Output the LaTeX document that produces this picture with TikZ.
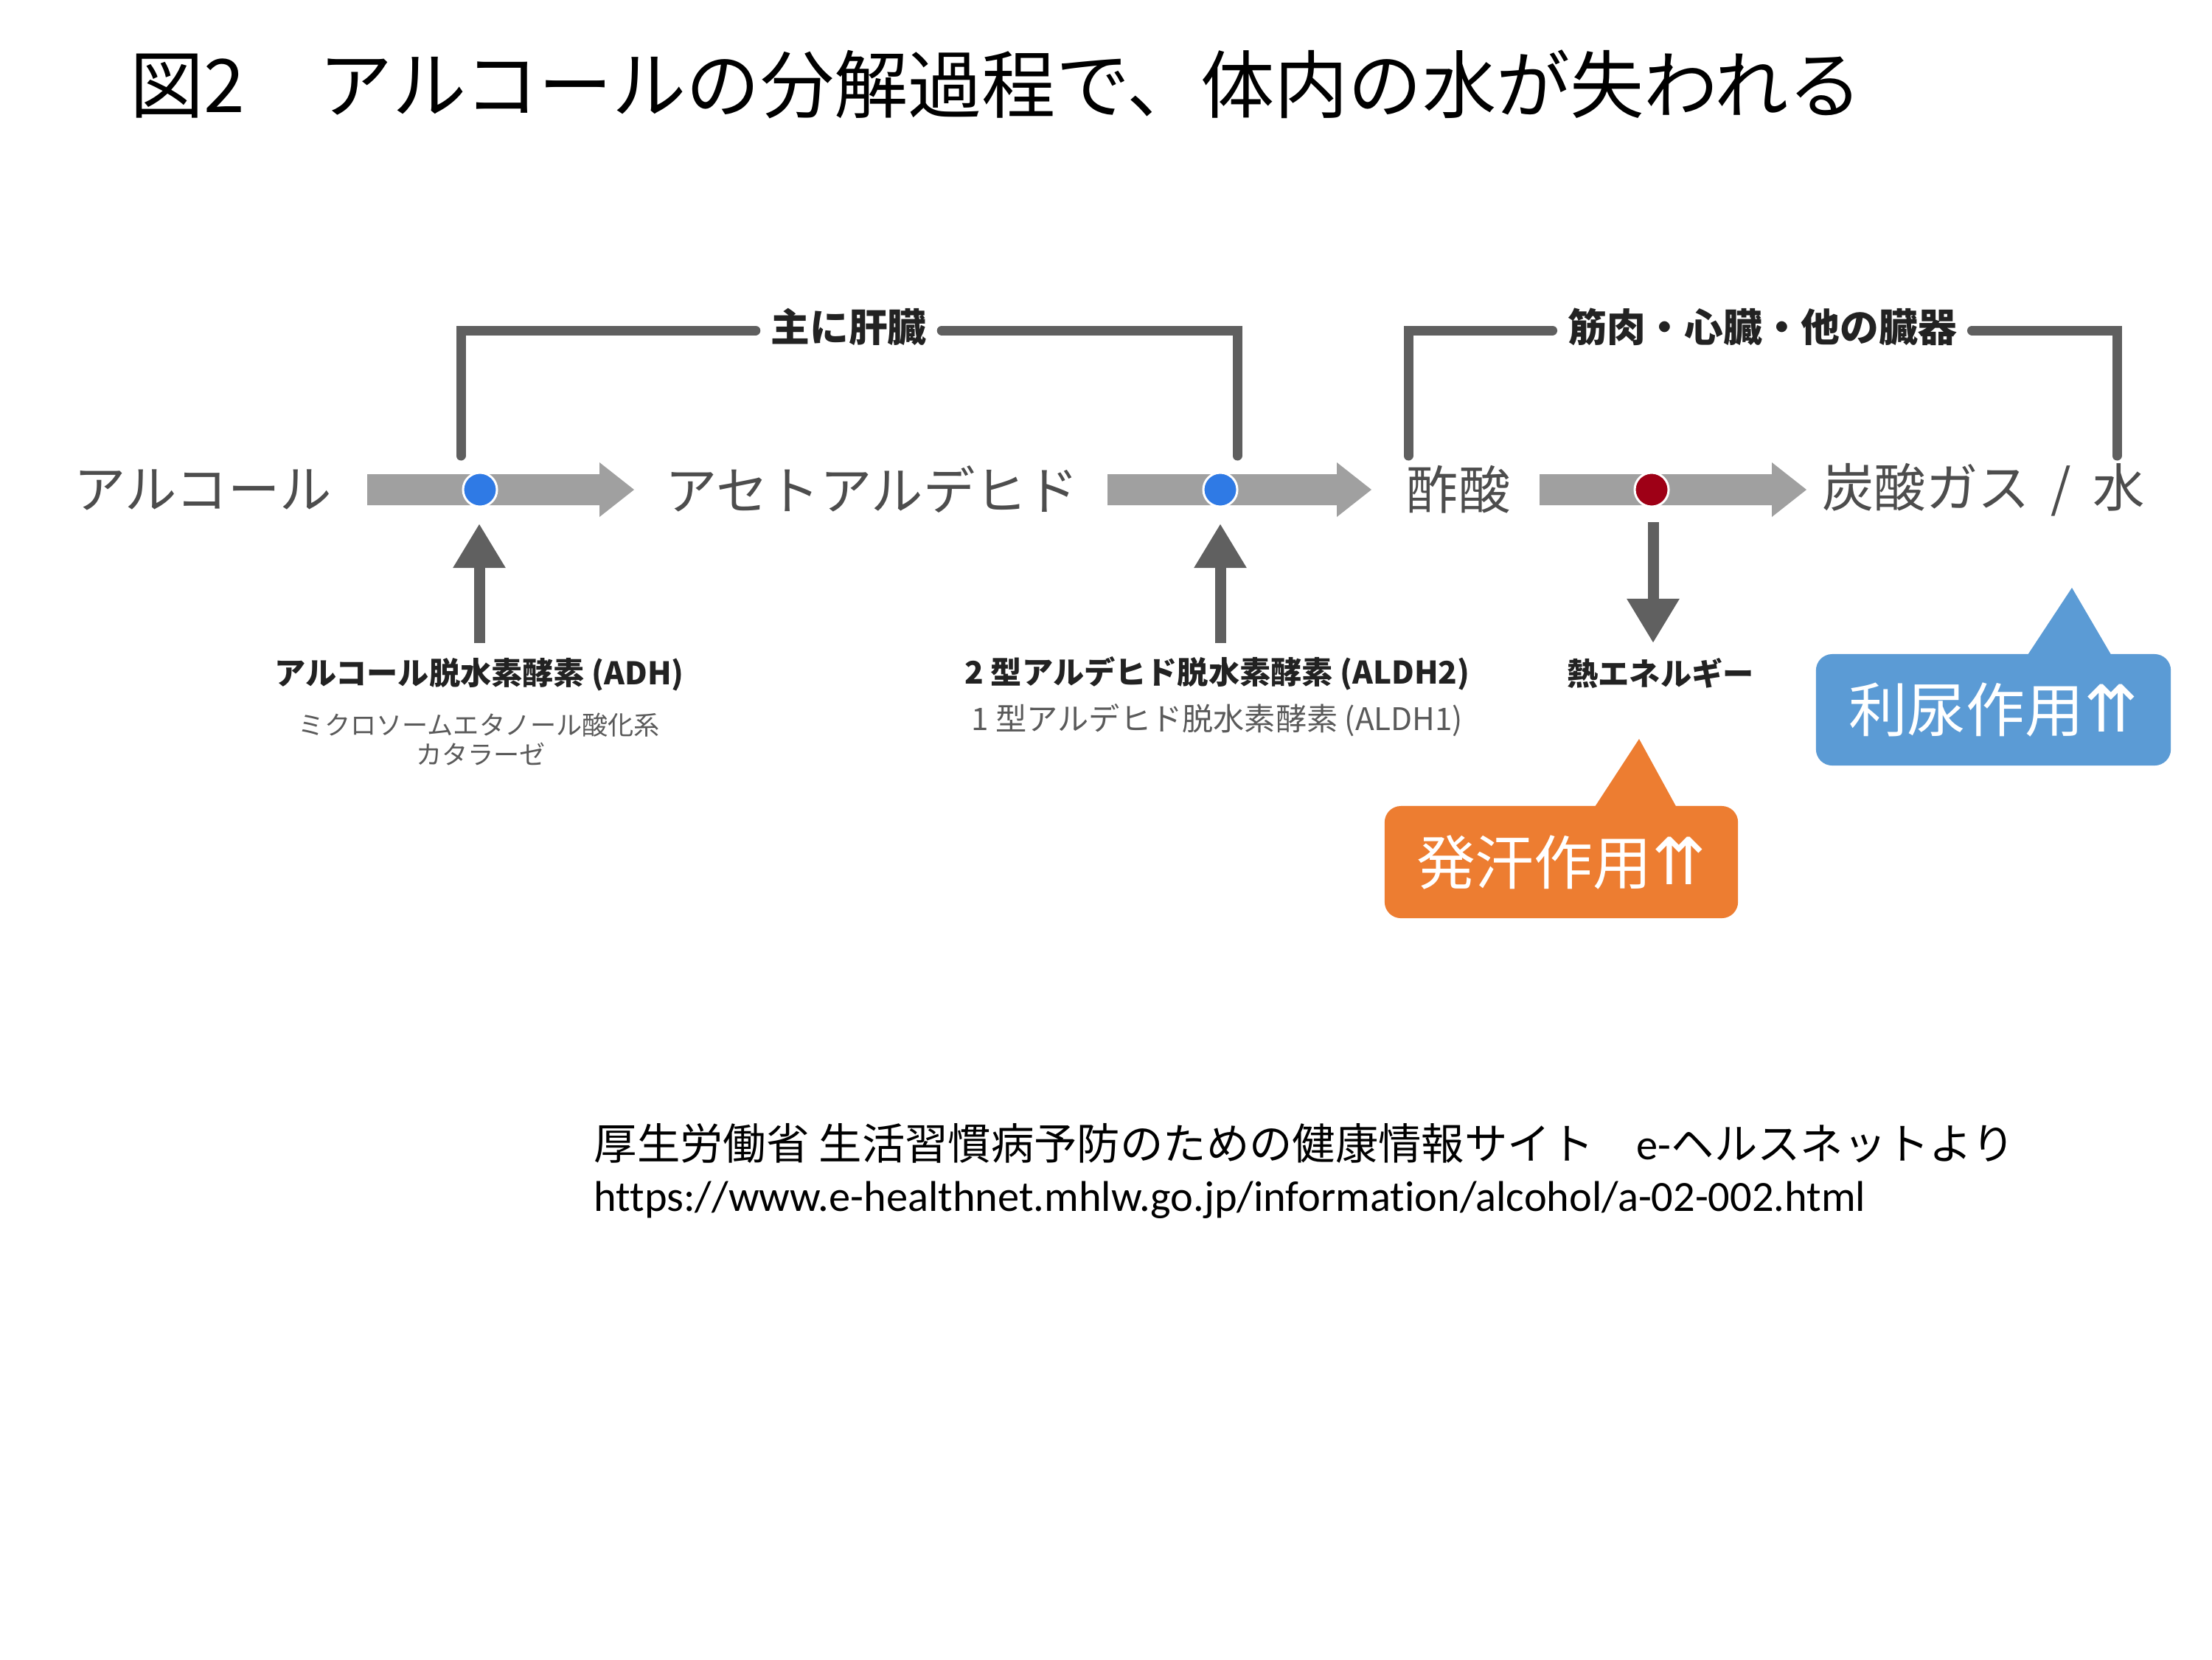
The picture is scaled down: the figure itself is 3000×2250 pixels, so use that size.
\documentclass[tikz,border=0pt]{standalone}
\usepackage{fontspec}
\setmainfont{Noto Sans CJK JP}
\newfontfamily\lat[Ligatures=NoCommon]{Carlito}
\newfontfamily\symf{DejaVu Sans}
\usetikzlibrary{arrows.meta,calc}
\definecolor{arrowgray}{HTML}{A0A0A0}
\definecolor{brcol}{HTML}{5F5F5F}
\definecolor{darrow}{HTML}{606060}
\definecolor{dotblue}{HTML}{2F7AE5}
\definecolor{dotred}{HTML}{9E0016}
\definecolor{orng}{HTML}{ED7D31}
\definecolor{blu}{HTML}{5B9BD5}
\definecolor{maintext}{HTML}{4D4D4D}
\definecolor{lbltext}{HTML}{222222}
\definecolor{subtext}{HTML}{5A5A5A}
\newcommand\fatarr[2]{\fill[arrowgray] ($(#1)+(0,-21)$) -- ($(#2)+(-47,-21)$) -- ($(#2)+(-47,-37)$) -- (#2) -- ($(#2)+(-47,37)$) -- ($(#2)+(-47,21)$) -- ($(#1)+(0,21)$) -- cycle;}
\begin{document}
\begin{tikzpicture}[x=0.01cm,y=-0.01cm,
  mainlbl/.style={font=\fontsize{20}{24}\selectfont, text=maintext, inner sep=0},
  brlbl/.style={font=\bfseries\fontsize{15}{18}\selectfont, text=lbltext, inner xsep=0.2cm, inner ysep=0},
  enzlbl/.style={font=\bfseries\fontsize{12}{14}\selectfont, text=lbltext, inner sep=0},
  sublbl/.style={font=\fontsize{10}{12}\selectfont, text=subtext, inner sep=0},
  bracket/.style={draw=brcol, line width=0.13cm, line cap=round, line join=miter},
  vertarrow/.style={draw=darrow, line width=0.15cm, -{Triangle[length=0.6cm,width=0.67cm]}},
  dotnode/.style={circle, minimum size=0.46cm, inner sep=0, draw=white, line width=0.03cm},
  callout/.style={rounded corners=0.22cm, text=white, font=\fontsize{22.7}{27}\selectfont, inner sep=0}]
\useasboundingbox (0,0) rectangle (3000,2250);
\fill[white] (0,0) rectangle (3000,2250);

% title
\node[anchor=west, inner sep=0, font=\fontsize{28.5}{34}\selectfont] (title) at (176,114) {図2　アルコールの分解過程で、体内の水が失われる};

% main labels
\node[mainlbl] (alc) at (275,664) {アルコール};
\node[mainlbl] (acet) at (1183,664) {アセトアルデヒド};
\node[mainlbl] (acid) at (1978,664) {酢酸};
\node[mainlbl] (co2) at (2690,664) {炭酸ガス\hspace{0.29cm}/\hspace{0.29cm}水};

% fat arrows
\coordinate (f1s) at (498,664); \coordinate (f1e) at (860,664);
\coordinate (f2s) at (1502,664); \coordinate (f2e) at (1860,664);
\coordinate (f3s) at (2088,664); \coordinate (f3e) at (2450,664);
\fatarr{f1s}{f1e}
\fatarr{f2s}{f2e}
\fatarr{f3s}{f3e}

% dots
\node[dotnode, fill=dotblue] (d1) at (651,664) {};
\node[dotnode, fill=dotblue] (d2) at (1655,664) {};
\node[dotnode, fill=dotred] (d3) at (2240,664) {};

% brackets
\node[brlbl] (liver) at (1151,443) {主に肝臓};
\coordinate (b1a) at (625,618); \coordinate (b1b) at (625,448);
\coordinate (b1c) at (1678,448); \coordinate (b1d) at (1678,618);
\draw[bracket] (b1a) -- (b1b) -- (b1b -| liver.west);
\draw[bracket] (b1c -| liver.east) -- (b1c) -- (b1d);

\node[brlbl] (organs) at (2390,443) {筋肉・心臓・他の臓器};
\coordinate (b2a) at (1910,618); \coordinate (b2b) at (1910,448);
\coordinate (b2c) at (2871,448); \coordinate (b2d) at (2871,618);
\draw[bracket] (b2a) -- (b2b) -- (b2b -| organs.west);
\draw[bracket] (b2c -| organs.east) -- (b2c) -- (b2d);

% enzyme labels
\node[enzlbl] (adh) at (650,915) {アルコール脱水素酵素 (ADH)};
\node[sublbl] (meos) at (650,983) {ミクロソームエタノール酸化系};
\node[sublbl] (cat) at (652,1023) {カタラーゼ};
\node[enzlbl] (aldh2) at (1651,913) {2 型アルデヒド脱水素酵素 (ALDH2)};
\node[enzlbl, font=\fontsize{12}{14}\selectfont, text=subtext] (aldh1) at (1651,977) {1 型アルデヒド脱水素酵素 (ALDH1)};
\node[enzlbl] (heat) at (2252,913) {熱エネルギー};

% vertical arrows
\coordinate (u1s) at (650,872); \coordinate (u1e) at (650,710);
\coordinate (u2s) at (1655,872); \coordinate (u2e) at (1655,710);
\coordinate (h1s) at (2242,708); \coordinate (h1e) at (2242,872);
\draw[vertarrow] (u1s) -- (u1e);
\draw[vertarrow] (u2s) -- (u2e);
\draw[vertarrow] (h1s) -- (h1e);

% callouts
\node[callout, fill=orng, minimum width=4.79cm, minimum height=1.52cm] (sweat) at (2117.5,1169) {発汗作用{\symf\fontsize{25}{27}\selectfont ⇈}};
\fill[orng] (2161,1097) -- (2223,1002) -- (2275,1097) -- cycle;
\node[callout, fill=blu, minimum width=4.81cm, minimum height=1.51cm] (urine) at (2703.5,962.5) {利尿作用{\symf\fontsize{25}{27}\selectfont ⇈}};
\fill[blu] (2748,891) -- (2810,797) -- (2865,891) -- cycle;

% source
\node[anchor=west, inner sep=0, font=\fontsize{16.6}{20}\selectfont] (src) at (805,1550) {厚生労働省 生活習慣病予防のための健康情報サイト　{\lat e-}ヘルスネットより};
\node[anchor=west, inner sep=0, font=\lat\fontsize{16.6}{20}\selectfont] (url) at (805,1627) {https://www.e-healthnet.mhlw.go.jp/information/alcohol/a-02-002.html};
\end{tikzpicture}
\end{document}
